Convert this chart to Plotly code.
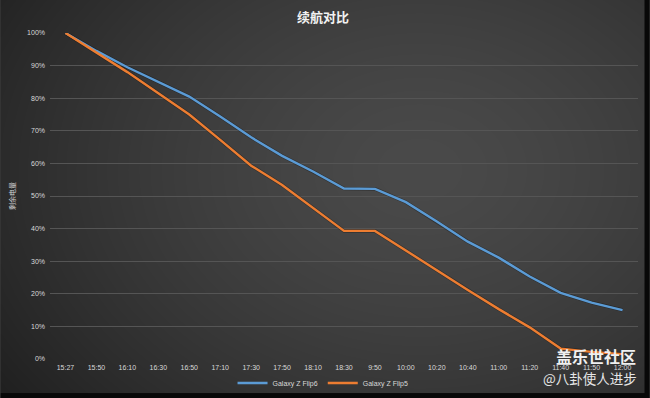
import base64, struct, zlib
import numpy as np
import plotly.graph_objects as go

times = ["15:27", "15:50", "16:10", "16:30", "16:50", "17:10", "17:30", "17:50", "18:10",
         "18:30", "9:50", "10:00", "10:20", "10:40", "11:00", "11:20", "11:40", "11:50", "12:00"]
flip6 = [100, 94.5, 89.5, 85, 80.5, 74.4, 68, 62.3, 57.5, 52.3, 52.2, 48.1, 42.2, 36, 31.1, 25.3, 20.3, 17.3, 15]
flip5 = [100, 94, 88, 81.5, 75, 67.2, 59.3, 53.4, 46.3, 39.3, 39.3, 33.2, 27.3, 21.2, 15.3, 9.7, 3.2, 2.2, 1.5]
y_ticks = [0, 10, 20, 30, 40, 50, 60, 70, 80, 90, 100]

W, H = 650, 398
L, R, T, B = 49.5, 11.5, 33.3, 39
PW, PH = W - L - R, H - T - B

def png_uri(arr):
    h, w, _ = arr.shape
    raw = b"".join(b"\x00" + arr[r].tobytes() for r in range(h))
    def chunk(t, d):
        c = struct.pack(">I", len(d)) + t + d
        return c + struct.pack(">I", zlib.crc32(t + d) & 0xffffffff)
    png = b"\x89PNG\r\n\x1a\n" + chunk(b"IHDR", struct.pack(">IIBBBBB", w, h, 8, 2, 0, 0, 0)) \
        + chunk(b"IDAT", zlib.compress(raw, 9)) + chunk(b"IEND", b"")
    return "data:image/png;base64," + base64.b64encode(png).decode()

yy, xx = np.mgrid[0:H, 0:W].astype(float)
d = np.sqrt(((xx - 420) / 430) ** 2 + ((yy - 170) / 320) ** 2)
v = 74 - 32 * np.clip(d, 0, 1.3) ** 1.5
v = np.clip(v, 30, 80)
img = np.stack([v, v, v], axis=-1).astype(np.uint8)
img[393:, :] = 8
img[:, 645:] = 8
bg = png_uri(img)

fig = go.Figure()
for name, vals, col in [("Galaxy Z Flip6", flip6, "#5B9BD5"), ("Galaxy Z Flip5", flip5, "#ED7D31")]:
    fig.add_trace(go.Scatter(x=times, y=vals, mode="lines", showlegend=False, hoverinfo="skip",
                             line=dict(color="rgba(0,0,0,0.3)", width=3.6)))
for name, vals, col in [("Galaxy Z Flip6", flip6, "#5B9BD5"), ("Galaxy Z Flip5", flip5, "#ED7D31")]:
    fig.add_trace(go.Scatter(x=times, y=vals, mode="lines", name=name,
                             line=dict(color=col, width=2.4)))

fig.update_layout(
    width=W, height=H,
    margin=dict(l=L, r=R, t=T, b=B, autoexpand=False),
    paper_bgcolor="#3c3c3c", plot_bgcolor="rgba(0,0,0,0)",
    images=[dict(source=bg, xref="paper", yref="paper", x=-L / PW, y=1 + T / PH,
                 sizex=W / PW, sizey=H / PH,
                 xanchor="left", yanchor="top", sizing="stretch", layer="below")],
    font=dict(family="Liberation Sans, Arial, Noto Sans CJK SC", color="#d9d9d9", size=7),
    title=dict(text="<b>续航对比</b>", x=(323 - L) / PW, xref="paper", xanchor="center",
               y=1 - 17 / H, yanchor="middle",
               font=dict(family="Noto Sans CJK SC", size=13, color="#f2f2f2")),
    xaxis=dict(type="category", range=[-0.5, 18.5], showgrid=False, zeroline=False, automargin=False,
               showline=False, ticks="", tickfont=dict(size=7, color="#d9d9d9"), fixedrange=True,
               ticklabelstandoff=3),
    yaxis=dict(range=[0, 100], tickvals=y_ticks, ticktext=[f"{t}%" for t in y_ticks], automargin=False,
               gridcolor="#555555", gridwidth=1, zeroline=False, showline=False, fixedrange=True,
               tickfont=dict(size=7, color="#d9d9d9"), ticklabelstandoff=4,
               title=dict(text="剩余电量", font=dict(family="Noto Sans CJK SC", size=7, color="#d0d0d0"),
                          standoff=10)),
    legend=dict(orientation="h", x=(323 - L) / PW, xanchor="center", yref="container",
                y=1 - 383 / H, yanchor="middle",
                font=dict(size=7, color="#d9d9d9"), bgcolor="rgba(0,0,0,0)", itemwidth=30),
    annotations=[
        dict(text="<b>盖乐世社区</b>", xref="paper", yref="paper", x=(639 - L) / PW, xanchor="right",
             y=-(356 - 359) / PH, yanchor="middle", showarrow=False,
             font=dict(family="Noto Sans CJK SC", size=16, color="#f0f0f0")),
        dict(text="@八卦使人进步", xref="paper", yref="paper", x=(640 - L) / PW, xanchor="right",
             y=-(378 - 359) / PH, yanchor="middle", showarrow=False,
             font=dict(family="Noto Sans CJK SC", size=13.5, color="#e6e6e6")),
    ],
)
fig.write_html("out.html", config={"displayModeBar": False},
               post_script="document.body.style.margin='0';document.body.style.background='#080808';")
